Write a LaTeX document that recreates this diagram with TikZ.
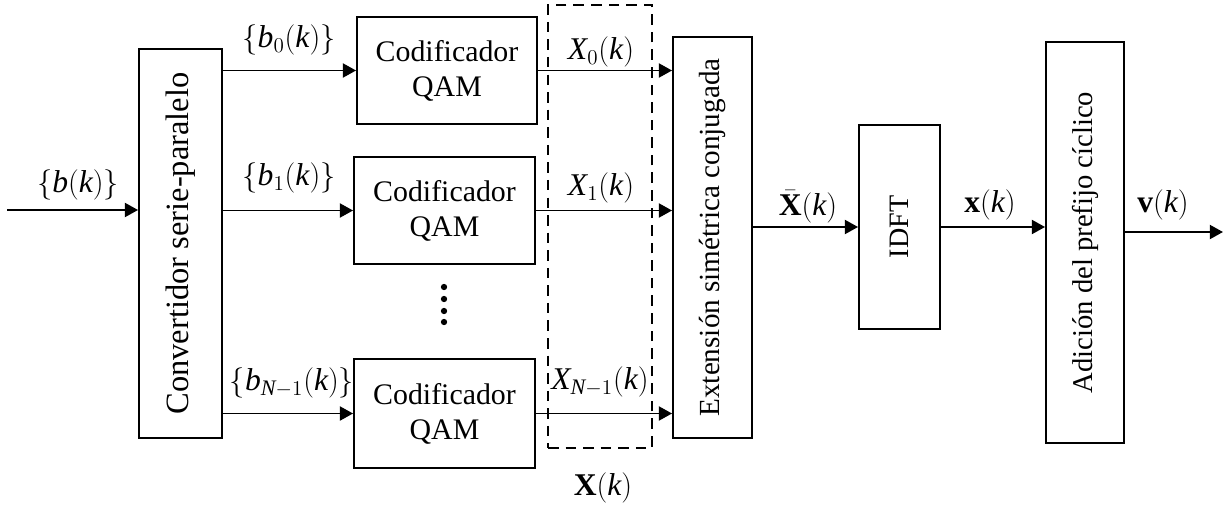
\documentclass[tikz,border=0pt]{standalone}
\usepackage{fontspec}
\setmainfont{Liberation Serif}
\usetikzlibrary{arrows.meta}
\begin{document}
\begin{tikzpicture}[x=0.02cm,y=-0.02cm,
  blk/.style={draw,line width=1.1pt,rectangle,inner sep=0pt,font=\fontsize{17}{20}\selectfont,align=center},
  arr/.style={line width=1.1pt,-{Triangle[length=7.5pt,width=8pt]}},
  lbl/.style={inner sep=0pt,font=\fontsize{18}{21}\selectfont},
  dotn/.style={circle,fill,inner sep=0pt,minimum size=3.6pt}]
\useasboundingbox (0,0) rectangle (1225,507);
% dashed box
\node[draw,line width=1.1pt,dash pattern=on 6pt off 4pt,minimum width=2.08cm,minimum height=8.86cm,inner sep=0pt] (xbox) at (600,226.5) {};
% blocks
\node[blk,minimum width=1.66cm,minimum height=7.78cm,font=\fontsize{18.5}{21}\selectfont] (conv) at (180.5,243.5) {\rotatebox{90}{Convertidor serie-paralelo}};
\node[blk,minimum width=3.6cm,minimum height=2.14cm] (q0) at (447,70.5) {Codificador\\QAM};
\node[blk,minimum width=3.62cm,minimum height=2.14cm] (q1) at (444.5,210.5) {Codificador\\QAM};
\node[blk,minimum width=3.62cm,minimum height=2.18cm] (q2) at (444.5,413.5) {Codificador\\QAM};
\node[blk,fill=white,minimum width=1.58cm,minimum height=8.02cm,font=\fontsize{16.6}{19}\selectfont] (ext) at (712.5,237.5) {\rotatebox{90}{Extensión simétrica conjugada}};
\node[blk,minimum width=1.62cm,minimum height=4.08cm,font=\fontsize{16}{18}\selectfont] (idft) at (899.5,227) {\rotatebox{90}{IDFT}};
\node[blk,minimum width=1.56cm,minimum height=8.02cm,font=\fontsize{16.3}{19}\selectfont] (adic) at (1085,242.5) {\rotatebox{90}{Adición del prefijo cíclico}};
% dots
\node[dotn] (d1) at (444,287) {};
\node[dotn] (d2) at (444,299) {};
\node[dotn] (d3) at (444,311) {};
\node[dotn] (d4) at (444,322) {};
% connectors
\coordinate (in) at (7,210);
\coordinate (out) at (1223,232);
\draw[arr] (in) -- (in -| conv.west);
\draw[arr] (q0.west -| conv.east) -- (q0.west);
\draw[arr] (q1.west -| conv.east) -- (q1.west);
\draw[arr] (q2.west -| conv.east) -- (q2.west);
\draw[arr] (q0.east) -- (q0.east -| ext.west);
\draw[arr] (q1.east) -- (q1.east -| ext.west);
\draw[arr] (q2.east) -- (q2.east -| ext.west);
\draw[arr] (idft.west -| ext.east) -- (idft.west);
\draw[arr] (idft.east) -- (idft.east -| adic.west);
\draw[arr] (out -| adic.east) -- (out);
% labels
\node[lbl] (lb) at (78,185) {$\{\mathit{b}(\mathit{k})\}$};
\node[lbl] (lb0) at (289,40) {$\{\mathit{b}_0(\mathit{k})\}$};
\node[lbl] (lb1) at (289,178) {$\{\mathit{b}_1(\mathit{k})\}$};
\node[lbl] (lbn) at (292,383) {$\{\mathit{b}_{\mathit{N}-1}(\mathit{k})\}$};
\node[lbl] (lx0) at (601,52) {$\mathit{X}_0(\mathit{k})$};
\node[lbl] (lx1) at (601,188) {$\mathit{X}_1(\mathit{k})$};
\node[lbl] (lxn) at (600,382) {$\mathit{X}_{\mathit{N}-1}(\mathit{k})$};
\node[lbl] (lX) at (603,488) {$\mathbf{X}(\mathit{k})$};
\node[lbl] (lXb) at (808,207) {$\bar{\mathbf{X}}(\mathit{k})$};
\node[lbl] (lxk) at (990,205) {$\mathbf{x}(\mathit{k})$};
\node[lbl] (lvk) at (1163,205) {$\mathbf{v}(\mathit{k})$};
\end{tikzpicture}
\end{document}
